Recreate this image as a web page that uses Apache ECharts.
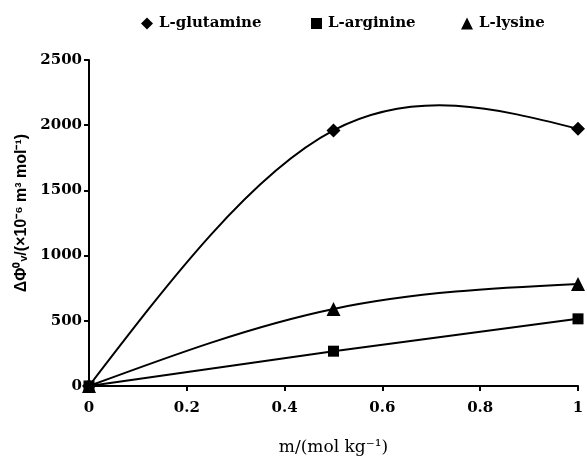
<!DOCTYPE html>
<html>
<head>
<meta charset="utf-8">
<script src="https://cdn.jsdelivr.net/npm/echarts@6/dist/echarts.min.js"></script>
<style>
  html, body { margin: 0; padding: 0; background: #fff; }
  #chart { width: 587px; height: 461px; }
</style>
</head>
<body>
<div id="chart"></div>
<script>
// molality, mol/kg
var molality = [0, 0.5, 1];
// volume change values, x10^-6 m^3/mol
var glutamine = [0, 1960, 1972];
var arginine = [0, 267, 515];
var lysine = [0, 591, 782];

var seriesNames = ['L-glutamine', 'L-arginine', 'L-lysine'];
var seriesSymbols = ['diamond', 'rect', 'triangle'];
var yTicks = [0, 500, 1000, 1500, 2000, 2500];

var serif = '"DejaVu Serif", serif';
var sans = '"Liberation Sans", Arial, sans-serif';

function pairs(ys) {
    var out = [];
    for (var i = 0; i < molality.length; i++) {
        out.push([molality[i], ys[i]]);
    }
    return out;
}

// natural cubic spline: second derivatives at the knots
function splineM(xs, ys) {
    var n = xs.length, M = [], a = [], b = [], c = [], d = [];
    for (var i = 0; i < n; i++) { M.push(0); }
    if (n < 3) { return M; }
    for (var i = 1; i < n - 1; i++) {
        var h0 = xs[i] - xs[i - 1], h1 = xs[i + 1] - xs[i];
        a.push(h0 / 6);
        b.push((h0 + h1) / 3);
        c.push(h1 / 6);
        d.push((ys[i + 1] - ys[i]) / h1 - (ys[i] - ys[i - 1]) / h0);
    }
    // thomas algorithm
    var m = b.length;
    for (var i = 1; i < m; i++) {
        var w = a[i] / b[i - 1];
        b[i] -= w * c[i - 1];
        d[i] -= w * d[i - 1];
    }
    var sol = [];
    sol[m - 1] = d[m - 1] / b[m - 1];
    for (var i = m - 2; i >= 0; i--) {
        sol[i] = (d[i] - c[i] * sol[i + 1]) / b[i];
    }
    for (var i = 0; i < m; i++) { M[i + 1] = sol[i]; }
    return M;
}

function curveSerie(ys) {
    var M = splineM(molality, ys);
    return {
        type: 'custom',
        data: pairs(ys),
        silent: true,
        z: 1,
        renderItem: function(params, api) {
            var i = params.dataIndex;
            if (i >= molality.length - 1) {
                return { type: 'group', children: [] };
            }
            var x0 = molality[i], x1 = molality[i + 1],
                y0 = ys[i], y1 = ys[i + 1],
                h = x1 - x0,
                s = (y1 - y0) / h,
                m0 = s - h * (2 * M[i] + M[i + 1]) / 6,
                m1 = s + h * (M[i] + 2 * M[i + 1]) / 6;
            var a = api.coord([x0, y0]),
                b = api.coord([x1, y1]),
                c0 = api.coord([x0 + h / 3, y0 + m0 * h / 3]),
                c1 = api.coord([x1 - h / 3, y1 - m1 * h / 3]);
            return {
                type: 'bezierCurve',
                shape: {
                    x1: a[0], y1: a[1], x2: b[0], y2: b[1],
                    cpx1: c0[0], cpy1: c0[1], cpx2: c1[0], cpy2: c1[1]
                },
                style: { stroke: '#000', lineWidth: 2, fill: null }
            };
        }
    };
}

function markerSerie(name, ys, symbol, size, z) {
    return {
        name: name,
        type: 'line',
        data: pairs(ys),
        symbol: symbol,
        symbolSize: size,
        showAllSymbol: true,
        z: z,
        lineStyle: { opacity: 0 },
        itemStyle: { color: '#000' },
        emphasis: { disabled: true }
    };
}

function legendItem(name, icon, left, size) {
    return {
        top: 11,
        left: left,
        itemWidth: size,
        itemHeight: size,
        itemGap: 0,
        selectedMode: false,
        textStyle: { fontFamily: serif, fontSize: 15, fontWeight: 'bold', color: '#000', padding: [0, 0, 0, 1] },
        data: [{ name: name, icon: icon }]
    };
}

var chart = echarts.init(document.getElementById('chart'));

chart.setOption({
    animation: false,
    backgroundColor: '#fff',
    legend: [
        legendItem(seriesNames[0], seriesSymbols[0], 136, 12),
        legendItem(seriesNames[1], seriesSymbols[1], 306, 11),
        legendItem(seriesNames[2], seriesSymbols[2], 456, 12)
    ],
    grid: { left: 89, right: 9, top: 60, bottom: 73 },
    xAxis: {
        type: 'value',
        min: 0,
        max: 1,
        interval: 0.2,
        name: 'm/(mol kg\u207B\u00B9)',
        nameLocation: 'middle',
        nameGap: 53,
        nameTextStyle: { fontFamily: serif, fontSize: 17, color: '#000' },
        axisLine: { lineStyle: { color: '#000', width: 2 } },
        axisTick: { show: true, length: 5, lineStyle: { color: '#000', width: 2 } },
        axisLabel: { fontFamily: serif, fontSize: 15, fontWeight: 'bold', color: '#000', margin: 15 },
        splitLine: { show: false }
    },
    yAxis: {
        type: 'value',
        min: yTicks[0],
        max: yTicks[yTicks.length - 1],
        interval: 500,
        name: '\u0394\u03A6\u2070\u1D65/(\u00D710\u207B\u2076 m\u00B3 mol\u207B\u00B9)',
        nameLocation: 'middle',
        nameGap: 56,
        nameTextStyle: { fontFamily: sans, fontSize: 16, fontWeight: 'bold', color: '#000', padding: [0, 0, 0, 20] },
        axisLine: { show: true, lineStyle: { color: '#000', width: 2 } },
        axisTick: { show: true, length: 5, lineStyle: { color: '#000', width: 2 } },
        axisLabel: {
            fontFamily: serif, fontSize: 15, fontWeight: 'bold', color: '#000', margin: 7,
            formatter: function(v) { return String(v); }
        },
        splitLine: { show: false }
    },
    series: [
        curveSerie(glutamine),
        curveSerie(arginine),
        curveSerie(lysine),
        markerSerie(seriesNames[0], glutamine, seriesSymbols[0], 14, 3),
        markerSerie(seriesNames[2], lysine, seriesSymbols[2], 14, 3),
        markerSerie(seriesNames[1], arginine, seriesSymbols[1], 11, 4)
    ]
});
</script>
</body>
</html>
